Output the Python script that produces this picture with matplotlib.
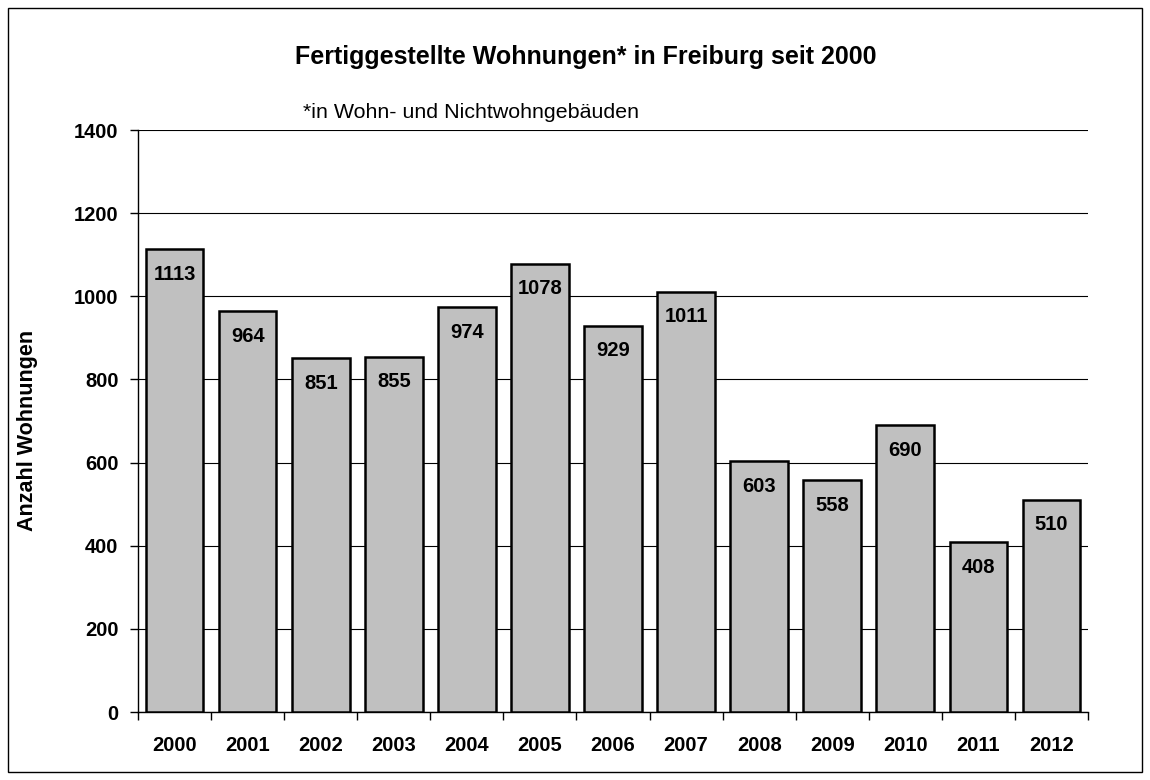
import matplotlib
matplotlib.use("Agg")
import matplotlib.pyplot as plt
from matplotlib.patches import Rectangle

plt.rcParams['font.family'] = ['Liberation Sans', 'DejaVu Sans']

years = ['2000', '2001', '2002', '2003', '2004', '2005', '2006',
         '2007', '2008', '2009', '2010', '2011', '2012']
wohnungen = [1113, 964, 851, 855, 974, 1078, 929, 1011, 603, 558, 690, 408, 510]
y_ticks = [0, 200, 400, 600, 800, 1000, 1200, 1400]

fig = plt.figure(figsize=(11.5, 7.8), dpi=100)
ax = fig.add_axes([138 / 1150, 68 / 780, 950 / 1150, 582 / 780])

# frame around the whole figure
fig.patches.append(Rectangle((8 / 1150, 8 / 780), 1134 / 1150, 764 / 780,
                             transform=fig.transFigure, fill=False,
                             edgecolor='black', linewidth=1))

x = list(range(len(years)))
ax.bar(x, wohnungen, width=0.79, color='#c0c0c0', edgecolor='black',
       linewidth=1.8, zorder=3)

for xi, v in zip(x, wohnungen):
    ax.annotate(str(v), (xi, v), xytext=(0, -18), textcoords='offset points',
                ha='center', va='center', fontsize=14.5, fontweight='bold', zorder=4)

ax.set_xlim(-0.5, len(years) - 0.5)
ax.set_ylim(0, 1400)
ax.set_yticks(y_ticks)
ax.set_yticklabels([str(t) for t in y_ticks], fontsize=14.5, fontweight='bold')
ax.yaxis.grid(True, color='black', linewidth=0.8, zorder=0)

ax.set_xticks(x)
ax.set_xticklabels(years, fontsize=14.5, fontweight='bold')
ax.tick_params(axis='x', length=0, pad=17)
ax.set_xticks([i - 0.5 for i in range(len(years) + 1)], minor=True)
ax.tick_params(axis='x', which='minor', length=6, direction='out', width=1)
ax.tick_params(axis='y', length=6, direction='out', width=1, pad=8)

for side in ['top', 'right']:
    ax.spines[side].set_visible(False)
ax.spines['left'].set_linewidth(1)
ax.spines['bottom'].set_linewidth(1)

fig.text(28 / 1150, 1 - 430 / 780, 'Anzahl Wohnungen', rotation=90,
         ha='center', va='center', fontsize=15.5, fontweight='bold')

fig.text(586 / 1150, 1 - 57 / 780, 'Fertiggestellte Wohnungen* in Freiburg seit 2000',
         ha='center', va='center', fontsize=18, fontweight='bold')
fig.text(303 / 1150, 1 - 113 / 780, '*in Wohn- und Nichtwohngebäuden',
         ha='left', va='center', fontsize=15.4)

fig.savefig('out.png', dpi=100)
